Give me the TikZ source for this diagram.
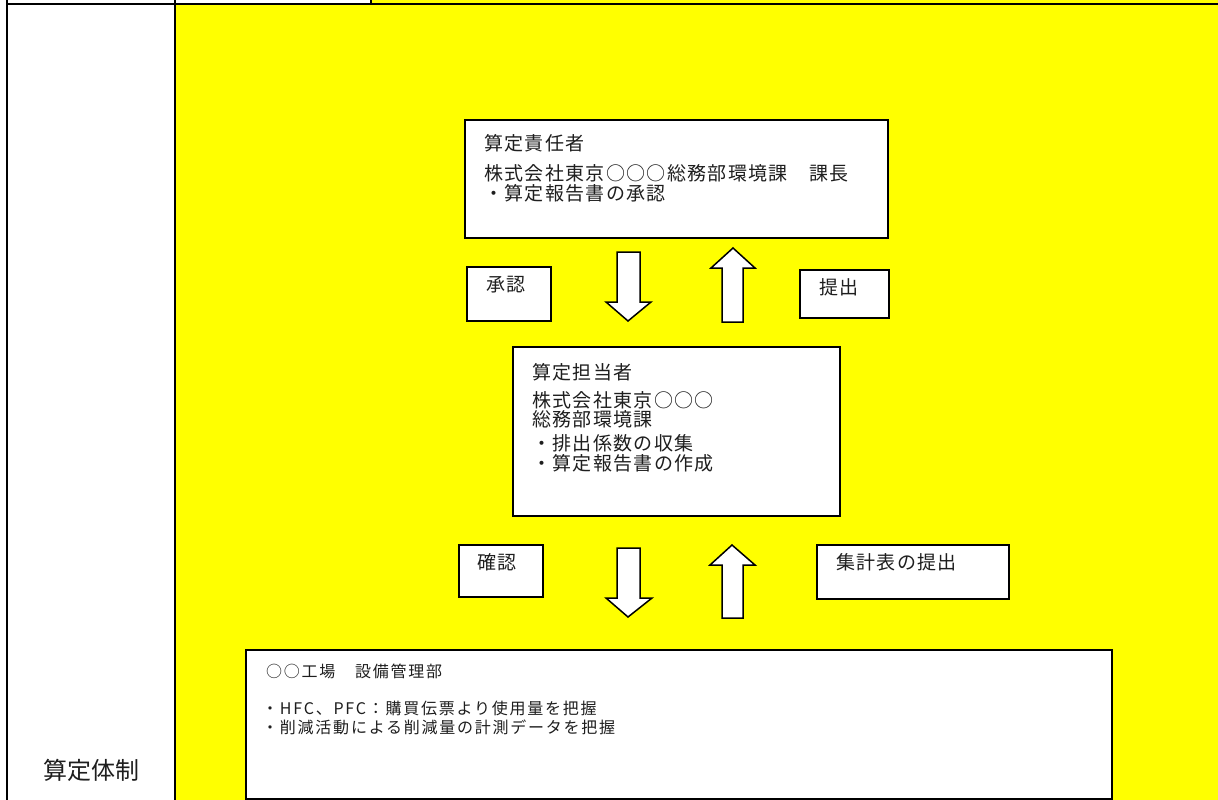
\documentclass[tikz,border=0pt]{standalone}
\usepackage{fontspec}
\newfontfamily\jpbox[LetterSpace=7]{Noto Sans CJK JP}
\newfontfamily\jpsmall[LetterSpace=11]{Noto Sans CJK JP}
\newfontfamily\jpleft{Noto Sans CJK JP}
\definecolor{ylw}{RGB}{255,255,0}
\definecolor{ink}{RGB}{30,30,30}
\tikzset{
  frame/.style={line width=2pt, black},
  box/.style={draw=black, fill=white, line width=1.8pt, rectangle, inner sep=0pt},
  bigarrow/.style={draw=black, fill=white, line width=1.5pt, line join=miter},
  txt/.style={anchor=west, inner sep=0pt, text=ink, font=\jpbox\fontsize{19}{21}\selectfont},
  smalltxt/.style={anchor=west, inner sep=0pt, text=ink, font=\jpsmall\fontsize{16}{18}\selectfont},
  lefttxt/.style={inner sep=0pt, text=ink, font=\jpleft\fontsize{24}{26}\selectfont}
}
\begin{document}
\begin{tikzpicture}[x=1pt,y=-1pt]
\useasboundingbox (0,0) rectangle (1218,800);
\fill[white] (0,0) rectangle (1218,800);
% background cells
\fill[ylw] (176,5) rectangle (1218,800);
\fill[ylw] (371,0) rectangle (1218,3);
% frame lines
\draw[frame] (6,4) -- (1218,4);
\draw[frame] (7,0) -- (7,800);
\draw[frame] (175,0) -- (175,800);
\draw[line width=1.2pt] (371,0) -- (371,4);
% left label
\node[lefttxt] (label) at (91,770) {算定体制};
% boxes
\node[box, minimum width=423pt, minimum height=118pt] (resp) at (676.5,179) {};
\node[box, minimum width=327pt, minimum height=169pt] (tanto) at (676.5,431.5) {};
\node[box, minimum width=866pt, minimum height=149pt] (factory) at (679,724.5) {};
\node[box, minimum width=84pt, minimum height=54pt] (shonin) at (509,294) {};
\node[box, minimum width=89pt, minimum height=48pt] (teishutsu) at (844.5,294) {};
\node[box, minimum width=84pt, minimum height=52pt] (kakunin) at (501,571) {};
\node[box, minimum width=192pt, minimum height=54pt] (shukei) at (913,572) {};
% box texts
\node[txt] (r1) at (484,143) {算定責任者};
\node[txt] (r2) at (484,173) {株式会社東京○○○総務部環境課　課長};
\node[txt] (r3) at (484,193) {・算定報告書の承認};
\node[txt] (t1) at (532,372) {算定担当者};
\node[txt] (t2) at (532,400) {株式会社東京○○○};
\node[txt] (t3) at (532,419) {総務部環境課};
\node[txt] (t4) at (532,443) {・排出係数の収集};
\node[txt] (t5) at (532,463) {・算定報告書の作成};
\node[txt] (s1) at (486,285) {承認};
\node[txt] (s2) at (819,287) {提出};
\node[txt] (k1) at (477,562) {確認};
\node[txt] (k2) at (836,562) {集計表の提出};
\node[smalltxt] (f1) at (266,671) {○○工場　設備管理部};
\node[smalltxt] (f2) at (262,708) {・HFC、PFC：購買伝票より使用量を把握};
\node[smalltxt] (f3) at (262,727) {・削減活動による削減量の計測データを把握};
% block arrows
\draw[bigarrow] (617,252) -- (640,252) -- (640,302) -- (651,302) -- (628,321) -- (606,302) -- (617,302) -- cycle;
\draw[bigarrow] (722,322) -- (743,322) -- (743,268) -- (755,268) -- (733,248) -- (711,268) -- (722,268) -- cycle;
\draw[bigarrow] (617,548) -- (640,548) -- (640,598) -- (652,598) -- (628,617) -- (606,598) -- (617,598) -- cycle;
\draw[bigarrow] (722,618) -- (743,618) -- (743,565) -- (755,565) -- (732,545) -- (710,565) -- (722,565) -- cycle;
\end{tikzpicture}
\end{document}
